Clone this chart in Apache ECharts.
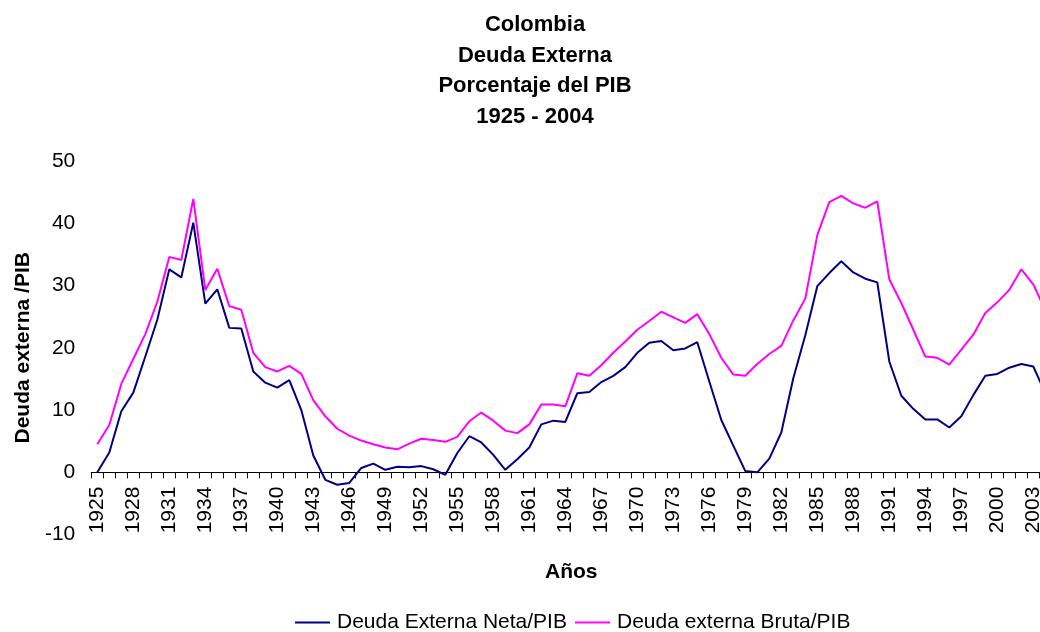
<!DOCTYPE html>
<html>
<head>
<meta charset="utf-8">
<script src="https://cdn.jsdelivr.net/npm/echarts@6/dist/echarts.min.js"></script>
<style>
html,body{margin:0;padding:0;background:#fff;}
#chart{width:1040px;height:632px;}
</style>
</head>
<body>
<div id="chart"></div>
<script>
const years = [];
for (let y = 1925; y <= 2004; y++) years.push(String(y));

const neta = [
  0.0, 3.2, 9.8, 12.8, 18.6, 24.5, 32.6, 31.3, 40.1, 27.1,
  29.4, 23.2, 23.1, 16.2, 14.4, 13.6, 14.8, 10.0, 2.7, -1.2,
  -2.0, -1.7, 0.7, 1.4, 0.4, 0.9, 0.8, 1.0, 0.5, -0.4,
  3.1, 5.8, 4.8, 2.8, 0.4, 2.1, 4.0, 7.7, 8.3, 8.1,
  12.7, 12.9, 14.5, 15.5, 16.9, 19.2, 20.8, 21.1, 19.6, 19.9,
  20.9, 14.6, 8.4, 4.3, 0.2, 0.0, 2.2, 6.4, 15.1, 22.0,
  29.9, 32.0, 33.9, 32.1, 31.1, 30.5, 17.8, 12.3, 10.2, 8.5,
  8.5, 7.2, 9.0, 12.4, 15.5, 15.8, 16.8, 17.4, 17.0, 12.7
];

const bruta = [
  4.5, 7.6, 14.2, 18.2, 22.2, 27.4, 34.6, 34.1, 43.9, 29.3,
  32.7, 26.7, 26.1, 19.2, 16.9, 16.2, 17.1, 15.8, 11.6, 9.0,
  7.0, 5.9, 5.1, 4.5, 4.0, 3.7, 4.6, 5.4, 5.2, 4.9,
  5.7, 8.2, 9.6, 8.3, 6.7, 6.3, 7.7, 10.9, 10.9, 10.6,
  15.9, 15.5, 17.2, 19.2, 21.0, 22.9, 24.3, 25.8, 24.9, 24.0,
  25.4, 22.2, 18.4, 15.7, 15.5, 17.4, 19.0, 20.3, 24.4, 27.9,
  38.1, 43.4, 44.4, 43.2, 42.5, 43.5, 31.0, 27.2, 22.9, 18.6,
  18.4, 17.3, 19.7, 22.1, 25.6, 27.3, 29.3, 32.6, 30.2, 26.0
];

const yTicks = [-10, 0, 10, 20, 30, 40, 50];
const seriesNames = ['Deuda Externa Neta/PIB', 'Deuda externa Bruta/PIB'];
const titleLines = ['Colombia', 'Deuda Externa', 'Porcentaje del PIB', '1925 - 2004'];

const FONT = 'Arial, "Liberation Sans", Helvetica, sans-serif';

const chart = echarts.init(document.getElementById('chart'), null, {renderer: 'canvas'});
chart.setOption({
  animation: false,
  backgroundColor: '#ffffff',
  textStyle: {fontFamily: FONT, color: '#000'},
  title: {
    text: titleLines.join('\n'),
    left: 535,
    top: 10,
    padding: 0,
    textAlign: 'center',
    textStyle: {fontFamily: FONT, fontSize: 22, fontWeight: 'bold', color: '#000', lineHeight: 30.5}
  },
  legend: {
    left: 295,
    top: 612,
    padding: 0,
    itemGap: 8,
    itemWidth: 35,
    itemHeight: 2,
    icon: 'rect',
    textStyle: {fontFamily: FONT, fontSize: 21, color: '#000', padding: [0, 0, 0, 2]},
    data: seriesNames
  },
  grid: {left: 91.3, top: 161, width: 960, height: 373.6, containLabel: false, outerBoundsMode: 'none'},
  xAxis: {
    type: 'category',
    data: years,
    boundaryGap: true,
    name: 'Años',
    nameLocation: 'middle',
    nameGap: 27,
    nameMoveOverlap: false,
    nameTextStyle: {fontFamily: FONT, fontSize: 21, fontWeight: 'bold', color: '#000'},
    axisLine: {show: true, onZero: true, lineStyle: {color: '#000', width: 1}},
    axisTick: {show: true, interval: 0, length: 6, lineStyle: {color: '#000'}},
    axisLabel: {interval: 2, rotate: 90, margin: -48, fontFamily: FONT, fontSize: 21, color: '#000'},
    splitLine: {show: false}
  },
  yAxis: {
    type: 'value',
    min: yTicks[0],
    max: yTicks[yTicks.length - 1],
    interval: 10,
    name: 'Deuda externa /PIB',
    nameLocation: 'middle',
    nameRotate: 90,
    nameGap: 58,
    nameMoveOverlap: false,
    nameTextStyle: {fontFamily: FONT, fontSize: 21, fontWeight: 'bold', color: '#000'},
    axisLine: {show: false},
    axisTick: {show: false},
    axisLabel: {margin: 16, fontFamily: FONT, fontSize: 21, color: '#000'},
    splitLine: {show: false}
  },
  series: [
    {
      name: seriesNames[0], type: 'line', data: neta, symbol: 'none',
      color: '#000080', lineStyle: {color: '#000080', width: 2}
    },
    {
      name: seriesNames[1], type: 'line', data: bruta, symbol: 'none',
      color: '#FF00FF', lineStyle: {color: '#FF00FF', width: 2}
    }
  ]
});
</script>
</body>
</html>
